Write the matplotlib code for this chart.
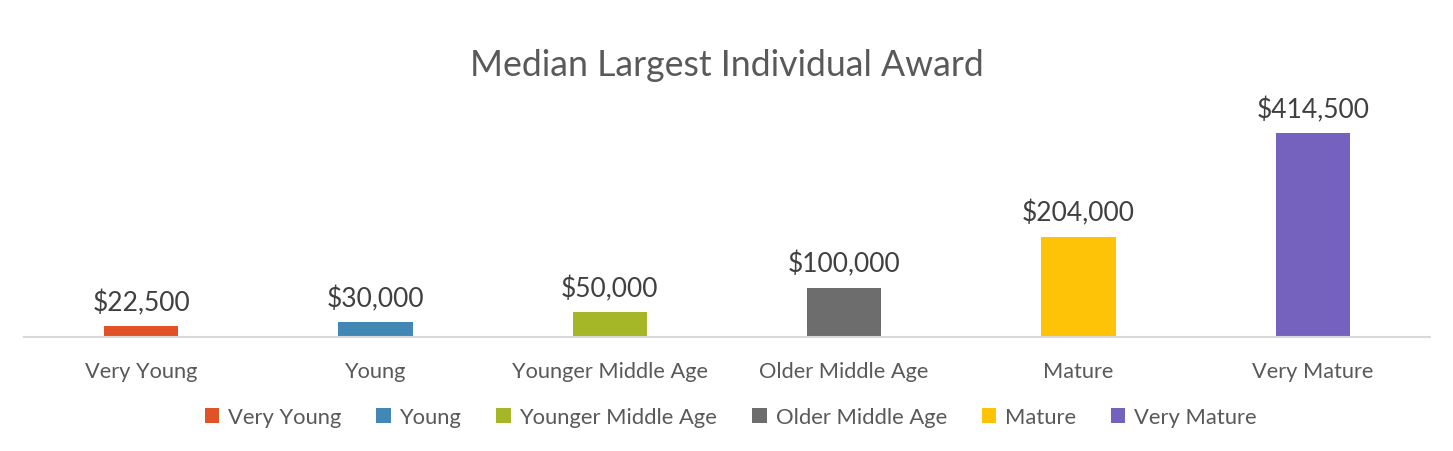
import numpy as np
import matplotlib.pyplot as plt

plt.rcParams['font.family'] = ['Lato', 'DejaVu Sans']

categories = ["Very Young", "Young", "Younger Middle Age", "Older Middle Age", "Mature", "Very Mature"]
awards = [22500, 30000, 50000, 100000, 204000, 414500]
colors = ["#E15326", "#4189B4", "#A5B727", "#6D6D6D", "#FEC306", "#7562BF"]

fig = plt.figure(figsize=(14.53, 4.52), dpi=100)
ax = fig.add_axes([24 / 1453, 114 / 452, 1406 / 1453, 221 / 452])

x = np.arange(len(categories))
bars = ax.bar(x, awards, width=0.316, color=colors, label=categories)

# подписи значений над столбцами
for b, v in zip(bars, awards):
    ax.annotate("${:,}".format(v), (b.get_x() + b.get_width() / 2, v),
                xytext=(0, 8), textcoords="offset points",
                ha="center", va="bottom", fontsize=19, color="#404040")

ax.set_xlim(-0.5, len(categories) - 0.5)
ax.set_ylim(0, 450000)
ax.set_xticks(x)
ax.set_xticklabels(categories, fontsize=15.7, color="#595959")
ax.tick_params(axis="x", length=0, pad=17)
ax.set_yticks([])
for s in ["left", "right", "top"]:
    ax.spines[s].set_visible(False)
ax.spines["bottom"].set_color("#D9D9D9")
ax.spines["bottom"].set_linewidth(1.5)

fig.text(0.5, 1 - 66 / 452, "Median Largest Individual Award",
         ha="center", va="center", fontsize=25.7, color="#595959")

fig.legend(handles=bars, labels=categories, loc="center",
           bbox_to_anchor=(0.503, 1 - 418 / 452), ncol=6, frameon=False,
           fontsize=15.8, handlelength=0.65, handleheight=0.65,
           handletextpad=0.4, columnspacing=1.6, labelcolor="#595959")

fig.savefig("out.png", dpi=100)
